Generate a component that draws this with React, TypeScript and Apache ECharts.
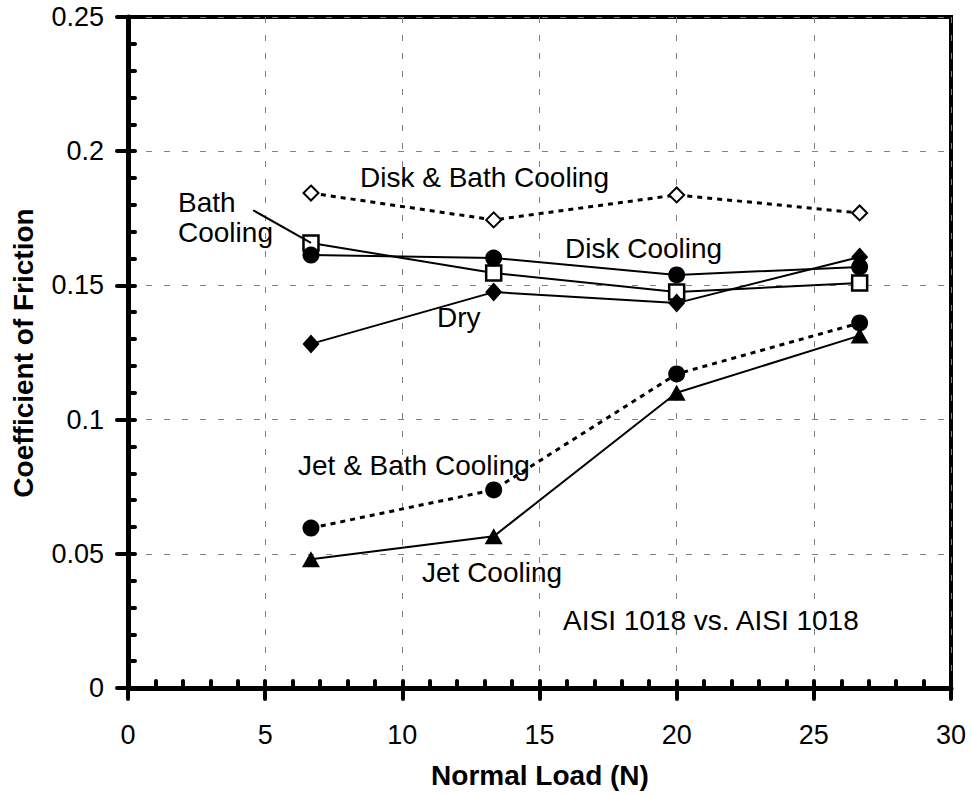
import React, { useEffect, useRef } from "react";
import * as echarts from "echarts";

const loads = [6.67, 13.33, 20, 26.67];
const diskBath = [0.1844, 0.1744, 0.1837, 0.177];
const bath = [0.1658, 0.1546, 0.1475, 0.1509];
const disk = [0.1613, 0.1602, 0.1539, 0.1569];
const dry = [0.1282, 0.1475, 0.1434, 0.1606];
const jetBath = [0.0596, 0.0738, 0.117, 0.136];
const jet = [0.048, 0.0565, 0.110, 0.1313];

const FONT = "'Liberation Sans', Arial, Helvetica, sans-serif";

const pts = (ys: number[]) => loads.map((x, i) => [x, ys[i]]);

export default function App() {
  const ref = useRef<HTMLDivElement>(null);
  useEffect(() => {
    if (!ref.current) return;
    const chart = echarts.init(ref.current, null, { renderer: "svg" });
    const solid = { color: "#000", width: 2, type: "solid" as const };
    const dotted = { color: "#000", width: 3, type: [5, 5] as any };
    const ann = (text: string, x: number, y: number) => ({
      type: "text",
      x,
      y,
      style: {
        text,
        fill: "#000",
        font: `28px ${FONT}`,
        align: "left",
        verticalAlign: "middle",
      },
      z: 100,
    });
    chart.setOption({
      animation: false,
      backgroundColor: "#fff",
      grid: {
        left: 128,
        right: 20,
        top: 17,
        bottom: 108,
        show: true,
        borderColor: "#000",
        borderWidth: 4,
      },
      xAxis: [
        {
          type: "value",
          min: 0,
          max: 30,
          interval: 5,
          axisLine: { show: true, onZero: false, lineStyle: { color: "#000", width: 5 } },
          axisTick: { show: true, inside: false, length: 11, lineStyle: { color: "#000", width: 4, cap: "round" } },
          axisLabel: { fontFamily: FONT, fontSize: 27, color: "#000", margin: 33 },
          splitLine: { show: true, lineStyle: { color: "#808080", width: 1, type: [6, 12] } },
        },
        {
          type: "value",
          min: 0,
          max: 30,
          interval: 1,
          position: "bottom",
          axisLine: { show: false },
          axisTick: { show: true, inside: true, length: 7, lineStyle: { color: "#000", width: 4, cap: "round" } },
          axisLabel: { show: false },
          splitLine: { show: false },
        },
      ],
      yAxis: [
        {
          type: "value",
          min: 0,
          max: 0.25,
          interval: 0.05,
          axisLine: { show: true, onZero: false, lineStyle: { color: "#000", width: 5 } },
          axisTick: { show: true, inside: false, length: 11, lineStyle: { color: "#000", width: 4, cap: "round" } },
          axisLabel: { fontFamily: FONT, fontSize: 27, color: "#000", margin: 24 },
          splitLine: { show: true, lineStyle: { color: "#808080", width: 1, type: [6, 12] } },
        },
        {
          type: "value",
          min: 0,
          max: 0.25,
          interval: 0.01,
          position: "left",
          axisLine: { show: false },
          axisTick: { show: true, inside: true, length: 7, lineStyle: { color: "#000", width: 4, cap: "round" } },
          axisLabel: { show: false },
          splitLine: { show: false },
        },
      ],
      series: [
        {
          name: "Disk & Bath Cooling",
          type: "line",
          data: pts(diskBath),
          lineStyle: dotted,
          symbol: "diamond",
          symbolSize: [15, 15],
          itemStyle: { color: "#fff", borderColor: "#000", borderWidth: 2 },
          z: 3,
        },
        {
          name: "Bath Cooling",
          type: "line",
          data: pts(bath),
          lineStyle: solid,
          symbol: "rect",
          symbolSize: 15,
          itemStyle: { color: "#fff", borderColor: "#000", borderWidth: 2.5 },
          z: 3,
          markLine: {
            silent: true,
            symbol: ["none", "none"],
            label: { show: false },
            lineStyle: { color: "#000", width: 2, type: "solid" },
            data: [[{ coord: [4.56, 0.178] }, { coord: [6.67, 0.1658] }]],
          },
        },
        {
          name: "Disk Cooling",
          type: "line",
          data: pts(disk),
          lineStyle: solid,
          symbol: "circle",
          symbolSize: 17,
          itemStyle: { color: "#000" },
          z: 4,
        },
        {
          name: "Dry",
          type: "line",
          data: pts(dry),
          lineStyle: solid,
          symbol: "diamond",
          symbolSize: [17, 19],
          itemStyle: { color: "#000" },
          z: 4,
        },
        {
          name: "Jet & Bath Cooling",
          type: "line",
          data: pts(jetBath),
          lineStyle: dotted,
          symbol: "circle",
          symbolSize: 17,
          itemStyle: { color: "#000" },
          z: 4,
        },
        {
          name: "Jet Cooling",
          type: "line",
          data: pts(jet),
          lineStyle: solid,
          symbol: "triangle",
          symbolSize: [18, 16],
          itemStyle: { color: "#000" },
          z: 4,
        },
      ],
      graphic: [
        ann("Disk & Bath Cooling", 360, 177),
        ann("Bath", 178, 202),
        ann("Cooling", 178, 232),
        ann("Disk Cooling", 565, 248),
        ann("Dry", 437, 317),
        ann("Jet & Bath Cooling", 298, 465),
        ann("Jet Cooling", 422, 572),
        ann("AISI 1018 vs. AISI 1018", 563, 620),
        {
          type: "text",
          x: 540,
          y: 775,
          style: {
            text: "Normal Load (N)",
            fill: "#000",
            font: `bold 28px ${FONT}`,
            align: "center",
            verticalAlign: "middle",
          },
        },
        {
          type: "text",
          x: 23,
          y: 353,
          rotation: Math.PI / 2,
          style: {
            text: "Coefficient of Friction",
            fill: "#000",
            font: `bold 28px ${FONT}`,
            align: "center",
            verticalAlign: "middle",
          },
        },
      ],
    });
    return () => chart.dispose();
  }, []);
  return <div ref={ref} style={{ width: 971, height: 796, position: "absolute", left: 0, top: 0 }} />;
}
